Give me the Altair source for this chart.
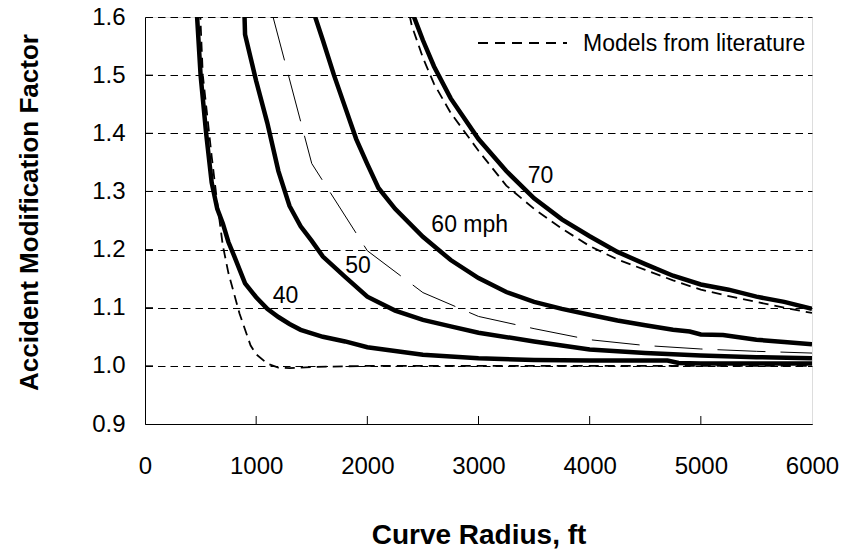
import altair as alt
import pandas as pd

# ---- data ----
r40 = [450, 500, 550, 600, 650, 700, 750, 800, 900, 1000, 1100, 1200, 1300, 1400, 1600, 1800, 2000, 2500, 3000, 3500, 4000, 4500, 4700, 4800, 5000, 5500, 6000]
amf40 = [1.66, 1.50, 1.40, 1.315, 1.27, 1.245, 1.213, 1.19, 1.142, 1.118, 1.098, 1.084, 1.072, 1.062, 1.05, 1.042, 1.032, 1.019, 1.013, 1.010, 1.009, 1.009, 1.009, 1.005, 1.004, 1.004, 1.004]

r50 = [850, 900, 950, 1000, 1100, 1200, 1300, 1400, 1500, 1600, 1800, 2000, 2250, 2500, 2750, 3000, 3500, 4000, 4500, 5000, 5500, 6000]
amf50 = [1.90, 1.57, 1.53, 1.49, 1.418, 1.335, 1.275, 1.24, 1.215, 1.188, 1.153, 1.119, 1.095, 1.079, 1.068, 1.057, 1.042, 1.028, 1.022, 1.018, 1.015, 1.013]

r60 = [1500, 1600, 1700, 1800, 1900, 2000, 2100, 2250, 2500, 2750, 3000, 3250, 3500, 3750, 4000, 4250, 4500, 4750, 4900, 5000, 5200, 5500, 5750, 6000]
amf60 = [1.618, 1.56, 1.50, 1.445, 1.39, 1.347, 1.306, 1.27, 1.222, 1.182, 1.151, 1.127, 1.11, 1.098, 1.088, 1.078, 1.07, 1.062, 1.059, 1.054, 1.053, 1.045, 1.041, 1.037]

r70 = [2400, 2500, 2600, 2750, 3000, 3250, 3500, 3750, 4000, 4250, 4500, 4750, 5000, 5250, 5500, 5750, 6000]
amf70 = [1.61, 1.56, 1.515, 1.46, 1.39, 1.335, 1.288, 1.252, 1.223, 1.196, 1.175, 1.155, 1.14, 1.131, 1.119, 1.110, 1.098]

# models from literature
lit40_r = [490, 500, 520, 560, 600, 650, 700, 750, 800, 850, 950, 1000, 1100, 1200, 1300, 1500, 2000, 3000, 4000, 5000, 6000]
lit40_amf = [1.64, 1.59, 1.50, 1.43, 1.36, 1.28, 1.207, 1.16, 1.125, 1.09, 1.035, 1.02, 1.004, 0.997, 0.996, 0.998, 1.0, 1.0, 1.0, 1.0, 1.0]

lit50_r = [1000, 1500, 2000, 2500, 3000, 3500, 4000, 4500, 5000, 5500, 6000]
lit50_amf = [1.71, 1.348, 1.198, 1.126, 1.085, 1.064, 1.045, 1.035, 1.029, 1.025, 1.022]

lit70_r = [2350, 2400, 2500, 2600, 2750, 3000, 3250, 3500, 3750, 4000, 4250, 4500, 4750, 5000, 5250, 5500, 5750, 6000]
lit70_amf = [1.63, 1.585, 1.53, 1.485, 1.435, 1.37, 1.31, 1.27, 1.236, 1.206, 1.183, 1.165, 1.147, 1.131, 1.12, 1.11, 1.10, 1.091]

label_text = ["70", "60 mph", "50", "40"]
label_x = [3558, 2921, 1916, 1264]
label_y = [1.326, 1.242, 1.172, 1.120]

x_ticks = [0, 1000, 2000, 3000, 4000, 5000, 6000]
y_ticks = [0.9, 1.0, 1.1, 1.2, 1.3, 1.4, 1.5, 1.6]
legend_label = "Models from literature"

W, H = 667, 407
FONT = "Liberation Sans"

xscale = alt.Scale(domain=[0, 6000], nice=False)
yscale = alt.Scale(domain=[0.9, 1.6], nice=False, zero=False)

xaxis = alt.Axis(values=x_ticks, format="d", ticks=False, tickSize=0, grid=False,
                 domainColor="black", domainWidth=1, labelFlush=False, labelOverlap=False,
                 labelFontSize=24, labelPadding=49, labelBaseline="alphabetic",
                 labelColor="black", labelFont=FONT,
                 title="Curve Radius, ft", titleFontSize=28, titleFontWeight="bold",
                 titleFont=FONT, titleColor="black",
                 titleX=W / 2, titleY=119, titleBaseline="alphabetic")
yaxis = alt.Axis(values=y_ticks, format=".1f", ticks=False, tickSize=0, grid=True,
                 gridColor="black", gridDash=[7.5, 5], gridWidth=1,
                 domainColor="black", domainWidth=1, labelFlush=False, labelOverlap=False,
                 labelFontSize=24, labelPadding=20, labelColor="black", labelFont=FONT,
                 title="Accident Modification Factor", titleFontSize=26,
                 titleFontWeight="bold", titleFont=FONT, titleColor="black",
                 titleAngle=270, titleX=-108, titleY=195, titleBaseline="alphabetic")


def line_layer(xs, ys, width, dash=None, axes=False):
    df = pd.DataFrame({"r": xs, "amf": ys})
    kw = dict(color="black", strokeWidth=width, clip=True, strokeCap="butt")
    if dash is not None:
        kw["strokeDash"] = dash
    if axes:
        enc_x = alt.X("r:Q", scale=xscale, axis=xaxis, sort=None)
        enc_y = alt.Y("amf:Q", scale=yscale, axis=yaxis)
    else:
        enc_x = alt.X("r:Q", scale=xscale, sort=None)
        enc_y = alt.Y("amf:Q", scale=yscale)
    return alt.Chart(df).mark_line(**kw).encode(x=enc_x, y=enc_y)


layers = [
    line_layer(r40, amf40, 4.5, axes=True),
    line_layer(r50, amf50, 4.5),
    line_layer(r60, amf60, 4.5),
    line_layer(r70, amf70, 4.5),
    line_layer(lit40_r, lit40_amf, 1.8, [10, 6]),
    line_layer(lit70_r, lit70_amf, 1.8, [10, 6]),
    line_layer(lit50_r, lit50_amf, 1, [48, 15]),
]

# inward tick marks
xt = pd.DataFrame({"r": x_ticks[1:-1]})
layers.append(alt.Chart(xt).mark_rule(color="black", strokeWidth=1).encode(
    x=alt.X("r:Q", scale=xscale), y=alt.value(H), y2=alt.value(H - 8)))
yt = pd.DataFrame({"amf": y_ticks[1:-1]})
layers.append(alt.Chart(yt).mark_rule(color="black", strokeWidth=1).encode(
    y=alt.Y("amf:Q", scale=yscale), x=alt.value(0), x2=alt.value(8)))

labels = pd.DataFrame({"text": label_text, "r": label_x, "amf": label_y})
layers.append(alt.Chart(labels).mark_text(fontSize=23, font=FONT, color="black",
                                          align="center", baseline="middle").encode(
    x=alt.X("r:Q", scale=xscale), y=alt.Y("amf:Q", scale=yscale), text="text:N"))

one = pd.DataFrame({"t": [legend_label]})
layers.append(alt.Chart(one).mark_rule(color="black", strokeWidth=2, strokeDash=[10, 7]).encode(
    x=alt.value(333), x2=alt.value(422), y=alt.value(26)))
layers.append(alt.Chart(one).mark_text(fontSize=23, font=FONT, color="black",
                                       align="left", baseline="alphabetic").encode(
    x=alt.value(438), y=alt.value(34), text="t:N"))

chart = alt.layer(*layers).properties(
    width=W, height=H,
    autosize=alt.AutoSizeParams(type="none"),
    padding={"left": 145, "top": 17, "right": 32, "bottom": 126},
    background="white",
).configure_view(stroke="black", strokeWidth=1).configure(font=FONT)

chart.save("out.html", embed_options={"renderer": "svg", "actions": False})
